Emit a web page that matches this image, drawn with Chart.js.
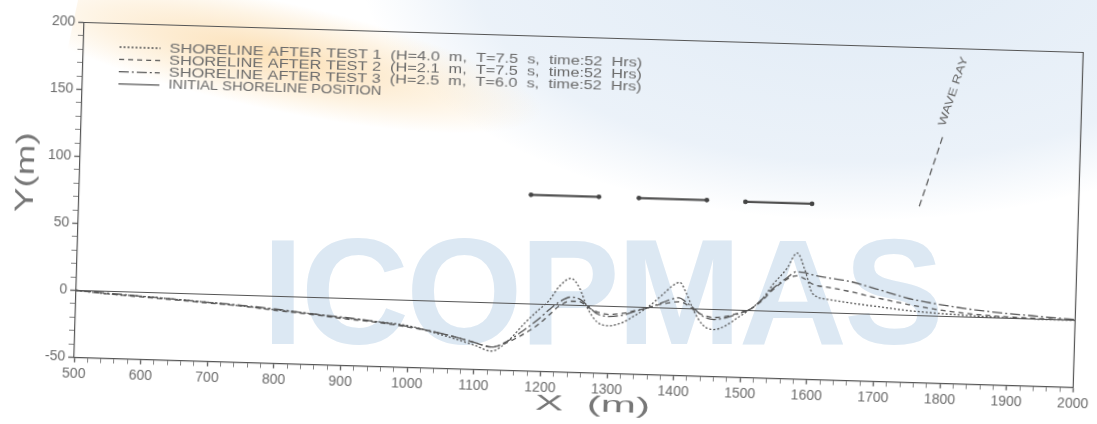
<!DOCTYPE html>
<html>
<head>
<meta charset="utf-8">
<script src="https://cdn.jsdelivr.net/npm/chart.js@4.4.1/dist/chart.umd.min.js"></script>
<style>
  html, body { margin: 0; padding: 0; }
  body { width: 1097px; height: 424px; overflow: hidden; background: #fff; position: relative; }
  .wm-blue {
    position: absolute; left: 360px; top: -300px; width: 1000px; height: 520px; border-radius: 50%;
    background: radial-gradient(ellipse at center, rgba(214,228,242,0.75) 0%, rgba(222,233,245,0.6) 55%, rgba(255,255,255,0) 71%);
  }
  .wm-orange {
    position: absolute; left: 70px; top: 8px; width: 480px; height: 110px; transform: rotate(12deg);
    background: radial-gradient(ellipse at 42% 50%, rgba(250,208,145,0.65) 0%, rgba(252,226,185,0.4) 45%, rgba(255,255,255,0) 70%);
  }
  .wm-text {
    position: absolute; left: 262px; top: 217px; font: bold 150px 'Liberation Sans', Arial, sans-serif;
    line-height: 150px; letter-spacing: -3px; color: #dce8f3; white-space: nowrap;
  }
  #wrap {
    position: absolute; left: 0; top: 0; width: 1097px; height: 424px;
    transform: rotate(1.72deg); transform-origin: 582px 205px;
  }
</style>
</head>
<body>
<div class="wm-blue"></div>
<div class="wm-orange"></div>
<div class="wm-text">ICOPMAS</div>
<div id="wrap"><canvas id="chart" width="1097" height="424"></canvas></div>

<script>
// ── Data ──
const xPoints = [500, 550, 600, 650, 700, 750, 800, 850, 900, 950, 1000, 1050, 1100,
    1125, 1150, 1175, 1195, 1210, 1225, 1242, 1255, 1268, 1283,
    1300, 1320, 1340, 1360, 1380, 1395, 1405, 1415, 1428, 1442,
    1458, 1475, 1495, 1512, 1530, 1545, 1565, 1580, 1592, 1605,
    1630, 1660, 1700, 1750, 1800, 1850, 1900, 1950, 2000];

const test1Y = [0, -2, -3, -4.5, -6, -8, -10, -12, -14.5, -16.5, -19, -25, -32,
    -36, -28, -14, -4, 3, 14, 20, 13, -2, -12,
    -14.5, -12, -6, 1, 10, 17, 19.5, 12, -2, -12,
    -15, -12, -5, 1, 9, 20, 32, 44, 32, 14,
    10, 8, 6, 3.5, 2, 1, 0.3, 0, 0];

const test2Y = [0, -2, -3.5, -5, -6.5, -8, -10.5, -12.5, -15, -17, -20, -24, -30,
    -33, -29, -22, -15, -8, -1, 3, 3, -1, -4.5,
    -6, -5, -2.5, 0, 3, 4.5, 5, 3.5, -1, -4.5,
    -6, -5, -2, 1, 8, 16, 24, 27, 25, 21,
    19, 16.5, 12.5, 8, 4.5, 2.2, 1, 0.5, 0];

const test3Y = [0, -1.5, -3, -4.5, -6, -7.5, -9.5, -12, -14, -16.5, -19.5, -24, -30,
    -33, -28, -19, -11, -4, 2, 6, 5, 0, -6,
    -7.5, -6.5, -3, 0, 4, 7, 8, 5, 0, -5.5,
    -7.5, -6, -2.5, 1, 9, 17, 25, 30, 29.5, 28,
    26, 24, 19, 12.5, 8.5, 5.5, 3.5, 2, 0.5];

const initialX = [500, 2000];
const initialY = [0, 0];

const breakwaterStart = [1178, 1340, 1500];
const breakwaterEnd   = [1280, 1442, 1600];
const breakwaterY     = [81.5, 81.5, 81];

const waveRayX = [1761, 1793];
const waveRayY = [81.5, 134];

const xTickLabels = [500, 600, 700, 800, 900, 1000, 1100, 1200, 1300, 1400, 1500, 1600, 1700, 1800, 1900, 2000];
const yTickLabels = [-50, 0, 50, 100, 150, 200];

const legendLabels = [
    'SHORELINE AFTER TEST 1  (H=4.0  m,  T=7.5  s,  time:52  Hrs)',
    'SHORELINE AFTER TEST 2  (H=2.1  m,  T=7.5  s,  time:52  Hrs)',
    'SHORELINE AFTER TEST 3  (H=2.5  m,  T=6.0  s,  time:52  Hrs)',
    'INITIAL SHORELINE POSITION'
];

// ── Styles ──
const FONT = "'Liberation Sans', Arial, sans-serif";
const INK = '#555';
const TEXT = '#6a6a6a';

const toPoints = (xs, ys) => xs.map((x, i) => ({ x, y: ys[i] }));

const curveStyles = [
    { borderDash: [2, 2],          borderWidth: 1.3 },
    { borderDash: [5, 4],          borderWidth: 1.3 },
    { borderDash: [10, 3, 2, 3],   borderWidth: 1.3 },
    { borderDash: [],              borderWidth: 1.2 }
];

const datasets = [
    { label: legendLabels[0], data: toPoints(xPoints, test1Y), ...curveStyles[0] },
    { label: legendLabels[1], data: toPoints(xPoints, test2Y), ...curveStyles[1] },
    { label: legendLabels[2], data: toPoints(xPoints, test3Y), ...curveStyles[2] },
    { label: legendLabels[3], data: toPoints(initialX, initialY), ...curveStyles[3] }
].map(d => ({ ...d, borderColor: INK, pointRadius: 0, cubicInterpolationMode: 'monotone', fill: false }));

// breakwaters
breakwaterStart.forEach((s, i) => {
    datasets.push({
        label: 'breakwater ' + (i + 1),
        data: [{ x: s, y: breakwaterY[i] }, { x: breakwaterEnd[i], y: breakwaterY[i] }],
        borderColor: '#505050', borderWidth: 2.2,
        pointRadius: 2.4, pointBackgroundColor: '#444', pointBorderWidth: 0
    });
});

// wave ray
datasets.push({
    label: 'wave ray',
    data: toPoints(waveRayX, waveRayY),
    borderColor: INK, borderWidth: 1.2, borderDash: [7, 4], pointRadius: 0
});

// ── Helper: fill text (left aligned) stretched to a given width ──
function stretchedText(ctx, text, x, y, width) {
    const w = ctx.measureText(text).width;
    ctx.save();
    ctx.textAlign = 'left';
    ctx.translate(x, y);
    ctx.scale(width / w, 1);
    ctx.fillText(text, 0, 0);
    ctx.restore();
}

// ── Plugin: frame, in-plot legend, labels ──
const plotExtras = {
    id: 'plotExtras',
    afterDatasetsDraw(chart) {
        const { ctx, chartArea: a, scales: { x, y } } = chart;
        ctx.save();

        // top + right frame
        ctx.strokeStyle = INK;
        ctx.lineWidth = 1.2;
        ctx.setLineDash([]);
        ctx.beginPath();
        ctx.moveTo(a.left, a.top);
        ctx.lineTo(a.right, a.top);
        ctx.lineTo(a.right, a.bottom);
        ctx.stroke();

        // legend
        ctx.font = '13px ' + FONT;
        ctx.fillStyle = TEXT;
        ctx.textBaseline = 'middle';
        legendLabels.forEach((label, i) => {
            const rowY = 61 + i * 12.3;
            ctx.strokeStyle = INK;
            ctx.lineWidth = curveStyles[i].borderWidth;
            ctx.setLineDash(curveStyles[i].borderDash);
            ctx.beginPath();
            ctx.moveTo(115, rowY);
            ctx.lineTo(156, rowY);
            ctx.stroke();
            stretchedText(ctx, label, 165, rowY, i < 3 ? 473 : 213);
        });
        ctx.setLineDash([]);

        // wave ray label, centred on its anchor
        ctx.save();
        ctx.translate(x.getPixelForValue(1807), y.getPixelForValue(168));
        ctx.rotate(-73 * Math.PI / 180);
        ctx.font = '11px ' + FONT;
        stretchedText(ctx, 'WAVE RAY', -36, 0, 72);
        ctx.restore();

        // axis titles
        ctx.fillStyle = '#777';
        ctx.font = '26px ' + FONT;
        ctx.save();
        ctx.translate(26, 189);
        ctx.rotate(-Math.PI / 2);
        stretchedText(ctx, 'Y(m)', -40, 0, 80);
        ctx.restore();

        ctx.font = '22px ' + FONT;
        stretchedText(ctx, 'X  (m)', 598 - 57, 405, 115);

        ctx.restore();
    }
};

new Chart(document.getElementById('chart'), {
    type: 'line',
    data: { datasets },
    options: {
        responsive: false,
        animation: false,
        devicePixelRatio: 1,
        layout: { padding: { left: 0, right: 12, top: 37.5, bottom: 0 } },
        plugins: { legend: { display: false }, tooltip: { enabled: false } },
        scales: {
            x: {
                type: 'linear', min: 500, max: 2000,
                afterFit: s => { s.height = 51.5; },
                ticks: {
                    stepSize: 20, autoSkip: false, maxRotation: 0, padding: 3,
                    color: TEXT, font: { family: FONT, size: 14 },
                    callback: v => xTickLabels.includes(v) ? String(v) : ''
                },
                grid: {
                    drawOnChartArea: false, tickLength: 5, tickColor: '#666',
                    tickWidth: c => xTickLabels.includes(c.tick.value) ? 1.4 : 0.8
                },
                border: { color: INK, width: 1.2 }
            },
            y: {
                type: 'linear', min: -50, max: 200,
                afterFit: s => { s.width = 79; },
                ticks: {
                    stepSize: 10, autoSkip: false, padding: 3,
                    color: TEXT, font: { family: FONT, size: 14 },
                    callback: v => yTickLabels.includes(v) ? String(v) : ''
                },
                grid: {
                    drawOnChartArea: false, tickLength: 6, tickColor: '#666',
                    tickWidth: c => yTickLabels.includes(c.tick.value) ? 1.4 : 0.8
                },
                border: { color: INK, width: 1.2 }
            }
        }
    },
    plugins: [plotExtras]
});
</script>
</body>
</html>
